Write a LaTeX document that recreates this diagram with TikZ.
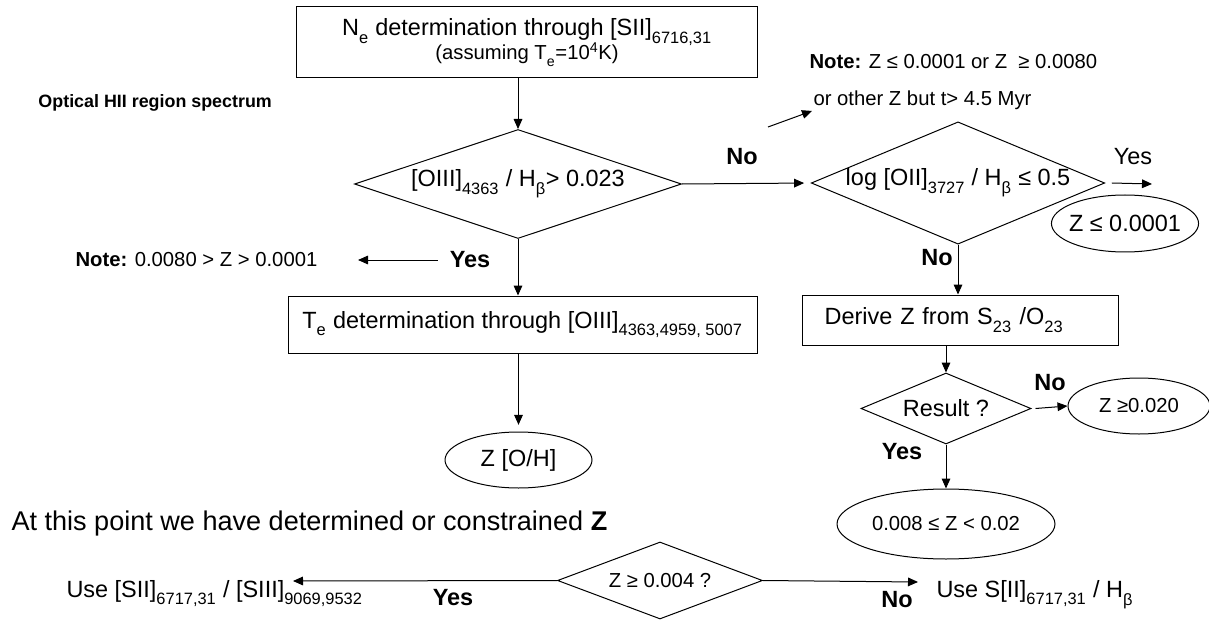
\documentclass[tikz,border=0pt]{standalone}
\usepackage{fontspec}
\setmainfont{Liberation Sans}
\usetikzlibrary{shapes.geometric,arrows.meta}

\newcommand{\msz}{\fontsize{17.6}{21}\selectfont}
\newcommand{\ssz}{\fontsize{15.2}{18}\selectfont}
\newcommand{\osz}{\fontsize{13.4}{16}\selectfont}
\newcommand{\bsz}{\fontsize{20.3}{24}\selectfont}
\newcommand{\sbs}[1]{\raisebox{-0.35ex}{\textsubscript{#1}}}

\tikzset{every picture/.style={line width=0.75pt}}

\begin{document}
\begin{tikzpicture}[x=0.75pt,y=0.75pt,yscale=-1,xscale=1,font=\msz,
        rbox/.style={draw, rectangle, inner sep=0pt},
        dec/.style={draw, diamond, inner sep=0pt},
        oval/.style={draw, ellipse, inner sep=0pt},
        lbl/.style={inner sep=0.75pt},
        arr/.style={-{Triangle[length=7.5pt,width=6.5pt]}}]
        \useasboundingbox (0,0) rectangle (1209,620);

        %Shape: Rectangle [ne]
        \draw (527,42.5) node [rbox, minimum width=345.75pt, minimum height=53.25pt, align=center] (ne) {N\sbs{e} determination through [SII]\sbs{6716,31}\\[-3pt]{\ssz (assuming T\sbs{e}=10\textsuperscript{4}K)}};
        %Shape: Diamond [oiii]
        \draw (518,184) node [dec, aspect=3, minimum width=245.25pt, minimum height=81.75pt] (oiii) {[OIII]\sbs{4363} / H\sbs{β}> 0.023};
        %Shape: Diamond [oii]
        \draw (958,183) node [dec, aspect=2.4, minimum width=218.25pt, minimum height=90pt] (oii) {log [OII]\sbs{3727} / H\sbs{β} ≤ 0.5};
        %Shape: Rectangle [te]
        \draw (522.5,324.5) node [rbox, minimum width=351.75pt, minimum height=42.75pt] (te) {T\sbs{e} determination through [OIII]\sbs{4363,4959, 5007}};
        %Shape: Rectangle [derive]
        \draw (960,320) node [rbox, minimum height=37.5pt, inner xsep=17pt, text width=203pt, align=left] (derive) {Derive Z from S\sbs{23} /O\sbs{23}};
        %Shape: Diamond [res]
        \draw (946,408.5) node [dec, aspect=2.4, minimum width=127.5pt, minimum height=53.25pt] (res) {Result ?};
        %Shape: Diamond [zq]
        \draw (660,580.5) node [dec, aspect=2.66, font=\ssz, minimum width=153.75pt, minimum height=57.75pt] (zq) {Z ≥ 0.004 ?};

        %Shape: Ellipse
        \draw (1125,223.5) node [oval, inner xsep=-3pt, minimum width=108pt, minimum height=42.75pt] (zlow) {Z ≤ 0.0001};
        \draw (1139,406) node [oval, font=\ssz, minimum width=106.5pt, minimum height=42pt] (zhigh) {Z ≥0.020};
        \draw (946,524) node [oval, font=\ssz, minimum width=163.5pt, minimum height=52.5pt] (zmid) {0.008 ≤ Z < 0.02};
        \draw (518.5,460) node [oval, minimum width=110.25pt, minimum height=42pt] (zoh) {Z [O/H]};

        % Text Node
        \draw (37,103) node [lbl, anchor=west, font=\osz\bfseries] (optical) {Optical HII region spectrum};
        % Text Node
        \draw (808,62) node [lbl, anchor=west, font=\ssz] (note1) {\textbf{Note:} Z ≤ 0.0001 or Z\ \ ≥ 0.0080};
        % Text Node
        \draw (812,100) node [lbl, anchor=west, font=\ssz] (other) {or other Z but t> 4.5 Myr};
        % Text Node
        \draw (742,157) node [lbl, font=\msz\bfseries] (no1) {No};
        % Text Node
        \draw (1133,157) node [lbl] (yes1) {Yes};
        % Text Node
        \draw (74,260) node [lbl, anchor=west, font=\ssz] (note2) {\textbf{Note:} 0.0080 > Z > 0.0001};
        % Text Node
        \draw (470,260) node [lbl, font=\msz\bfseries] (yes2) {Yes};
        % Text Node
        \draw (937,258) node [lbl, font=\msz\bfseries] (no2) {No};
        % Text Node
        \draw (1050,383) node [lbl, font=\msz\bfseries] (no3) {No};
        % Text Node
        \draw (902,452) node [lbl, font=\msz\bfseries] (yes3) {Yes};
        % Text Node
        \draw (10,523) node [lbl, anchor=west, font=\bsz] (point) {At this point we have determined or constrained \textbf{Z}};
        % Text Node
        \draw (65,597) node [lbl, anchor=base west] (usesii) {Use [SII]\sbs{6717,31} / [SIII]\sbs{9069,9532}};
        % Text Node
        \draw (453,598) node [lbl, font=\msz\bfseries] (yes4) {Yes};
        % Text Node
        \draw (935,597) node [lbl, anchor=base west] (useshb) {Use S[II]\sbs{6717,31} / H\sbs{β}};
        % Text Node
        \draw (897,600) node [lbl, font=\msz\bfseries] (no4) {No};

        \coordinate (nofrom) at (768,127);
        \coordinate (yesto) at (1152,184);
        \coordinate (noteto) at (358,260);
        \coordinate (useto) at (293,581);
        \coordinate (usebto) at (918,582);

        %Straight Lines
        \draw [arr] (oiii.north |- ne.south) -- (oiii.north);
        \draw [arr, shorten >=5pt] (oiii.east) -- (oii.west);
        \draw [arr] (nofrom) -- (other.south west);
        \draw [arr] ([xshift=5pt]oii.east) -- (yesto);
        \draw [arr] (oiii.south) -- (te.north -| oiii.south);
        \draw [arr] ([xshift=-8pt]yes2.west) -- (noteto);
        \draw [arr, shorten >=5pt] (zoh.north |- te.south) -- (zoh.north);
        \draw [arr] (oii.south) -- (derive.north -| oii.south);
        \draw [arr] (res.north |- derive.south) -- (res.north);
        \draw [arr] ([xshift=3pt]res.east) -- (zhigh.west);
        \draw [arr] (res.south) -- (zmid.north);
        \draw [arr] (zq.west) -- (useto);
        \draw [arr] (zq.east) -- (usebto);

\end{tikzpicture}
\end{document}
